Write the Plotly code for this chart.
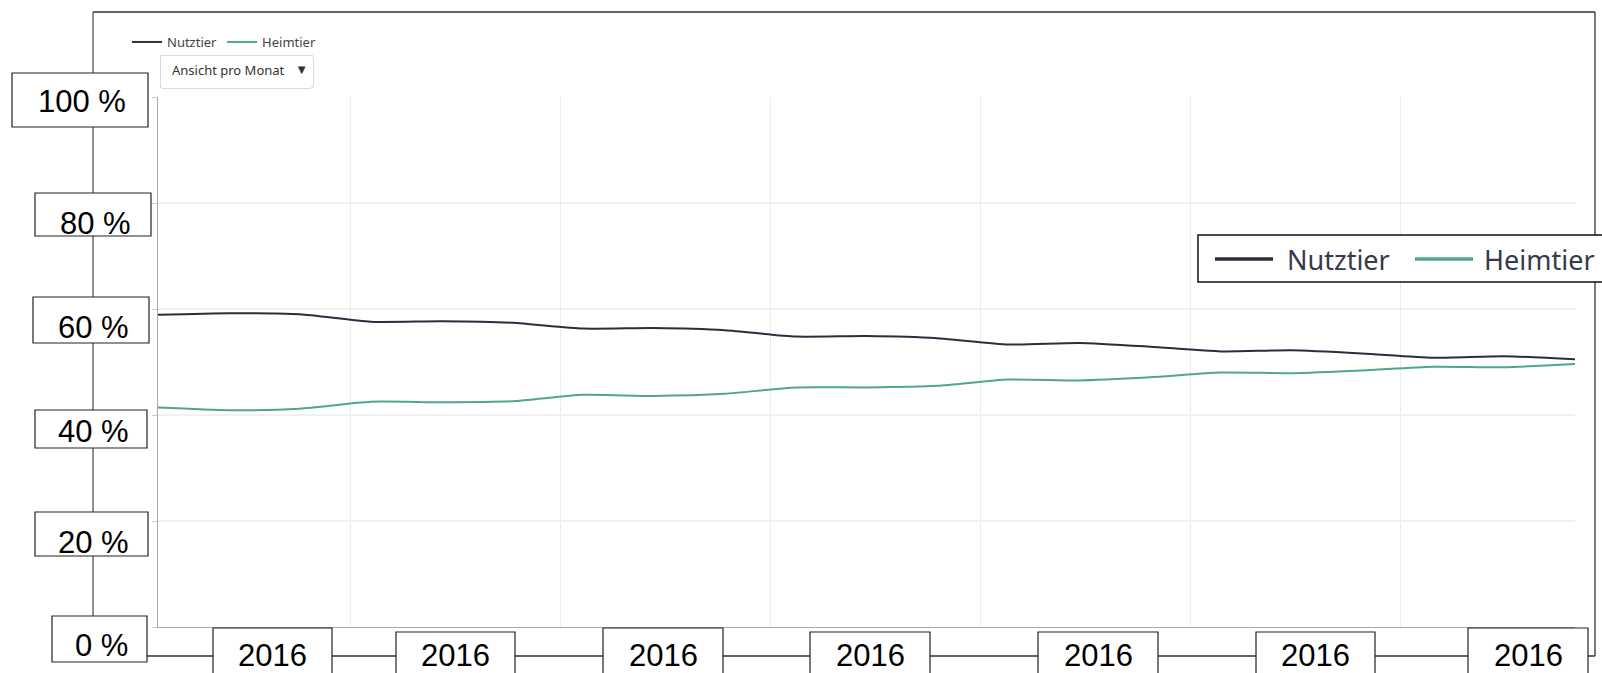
import plotly.graph_objects as go

# ---------------- data ----------------
MONTH_INDEX = list(range(21))
NUTZTIER = [58.9, 59.2, 59.0, 57.6, 57.7, 57.4, 56.3, 56.4, 56.0, 54.8, 54.9,
            54.5, 53.3, 53.6, 52.9, 52.0, 52.2, 51.6, 50.8, 51.1, 50.5]
HEIMTIER = [41.4, 40.9, 41.2, 42.5, 42.4, 42.6, 43.8, 43.6, 44.0, 45.2, 45.2,
            45.5, 46.7, 46.5, 47.1, 48.0, 47.9, 48.4, 49.1, 49.0, 49.6]
SERIES_NAMES = ["Nutztier", "Heimtier"]
Y_TICK_VALUES = [0, 20, 40, 60, 80, 100]
Y_TICK_LABELS = ["0 %", "20 %", "40 %", "60 %", "80 %", "100 %"]
X_TICK_LABELS = ["2016"] * 7
DROPDOWN_LABEL = "Ansicht pro Monat"

COL_N = "#2c2e3e"
COL_H = "#4ea68e"

# ---------------- geometry (pixels) ----------------
FW, FH = 1602, 673
L, R, T, B = 158, 1575, 97, 627
W, H = R - L, B - T


def px(xp):
    return (xp - L) / W


def py(yp):
    return (B - yp) / H


fig = go.Figure()
fig.add_trace(go.Scatter(x=MONTH_INDEX, y=NUTZTIER, name=SERIES_NAMES[0], mode="lines",
                         line=dict(color=COL_N, width=2, shape="spline", smoothing=0.6)))
fig.add_trace(go.Scatter(x=MONTH_INDEX, y=HEIMTIER, name=SERIES_NAMES[1], mode="lines",
                         line=dict(color=COL_H, width=2, shape="spline", smoothing=0.6)))

shapes = []
ann = []
frame = dict(color="#333333", width=1.3)
# outer frame lines
shapes.append(dict(type="line", xref="paper", yref="paper", x0=px(93), x1=px(1595), y0=py(12), y1=py(12), line=frame, layer="above"))
shapes.append(dict(type="line", xref="paper", yref="paper", x0=px(93), x1=px(93), y0=py(12), y1=py(640), line=dict(color="#555", width=1.3), layer="above"))
shapes.append(dict(type="line", xref="paper", yref="paper", x0=px(1595), x1=px(1595), y0=py(12), y1=py(656), line=frame, layer="above"))
shapes.append(dict(type="line", xref="paper", yref="paper", x0=px(140), x1=px(1595), y0=py(656), y1=py(656), line=frame, layer="above"))

box_font = dict(family="Liberation Sans, Arial", size=31, color="black")

# y boxes: (x0, x1, y0, y1, text_center_y)
y_boxes = [(52, 147, 616, 662, 645), (35, 148, 512, 556, 542), (35, 147, 410, 448, 431),
           (33, 149, 297, 343, 327), (35, 151, 193, 236, 224), (12, 148, 73, 127, 101)]
for lab, (x0, x1, y0, y1, tc) in zip(Y_TICK_LABELS, y_boxes):
    shapes.append(dict(type="rect", xref="paper", yref="paper", x0=px(x0), x1=px(x1), y0=py(y0), y1=py(y1),
                       line=dict(color="#222", width=1.2), fillcolor="white", layer="above"))
    ann.append(dict(text=lab, xref="paper", yref="paper", x=px((x0 + x1) / 2 + 2), y=py(tc),
                    xanchor="center", yanchor="middle", showarrow=False, font=box_font))

# x boxes
x_boxes = [(213, 332, 628), (396, 515, 632), (603, 723, 628), (810, 930, 632),
           (1038, 1158, 632), (1256, 1375, 632), (1468, 1588, 628)]
for lab, (x0, x1, y0) in zip(X_TICK_LABELS, x_boxes):
    shapes.append(dict(type="rect", xref="paper", yref="paper", x0=px(x0), x1=px(x1), y0=py(y0), y1=py(y0 + 48),
                       line=dict(color="#222", width=1.2), fillcolor="white", layer="above"))
    ann.append(dict(text=lab, xref="paper", yref="paper", x=px((x0 + x1) / 2), y=py(min(y0 + 28, 655)),
                    xanchor="center", yanchor="middle", showarrow=False, font=box_font))

# big legend overlay
shapes.append(dict(type="rect", xref="paper", yref="paper", x0=px(1198), x1=px(1620), y0=py(235), y1=py(282),
                   line=dict(color="#111", width=1.5), fillcolor="white", layer="above"))
for (lx0, lx1, tx, col, name) in [(1215, 1273, 1285, COL_N, SERIES_NAMES[0]),
                                   (1415, 1473, 1482, COL_H, SERIES_NAMES[1])]:
    shapes.append(dict(type="line", xref="paper", yref="paper", x0=px(lx0), x1=px(lx1), y0=py(259), y1=py(259),
                       line=dict(color=col, width=3.5), layer="above"))
    ann.append(dict(text=name, xref="paper", yref="paper", x=px(tx), y=py(259), xanchor="left", yanchor="middle",
                    showarrow=False, font=dict(family="Noto Sans", size=27, color="#353a4c")))

fig.update_layout(
    width=FW, height=FH, autosize=False,
    margin=dict(l=L, r=FW - R, t=T, b=FH - B, pad=0),
    paper_bgcolor="white", plot_bgcolor="white",
    font=dict(family="Noto Sans", size=13, color="#444"),
    showlegend=True,
    legend=dict(orientation="h", x=px(127), y=py(27), xanchor="left", yanchor="top",
                font=dict(size=13, color="#444"), bgcolor="rgba(0,0,0,0)", itemwidth=30),
    xaxis=dict(range=[0, 20], showgrid=True, gridcolor="#ececec", gridwidth=1,
               tick0=2.71, dtick=2.965, showticklabels=False, ticks="",
               showline=True, linecolor="#aaaaaa", linewidth=1, zeroline=False),
    yaxis=dict(range=[0, 100], tickvals=Y_TICK_VALUES, showgrid=True, gridcolor="#f1f1f1", gridwidth=2,
               showticklabels=False, ticks="outside", ticklen=5, tickcolor="#cccccc",
               showline=True, linecolor="#aaaaaa", linewidth=1, zeroline=False),
    updatemenus=[dict(type="dropdown", buttons=[dict(label=DROPDOWN_LABEL, method="skip", args=[None])],
                      x=px(159), y=py(54), xanchor="left", yanchor="top", showactive=False,
                      bgcolor="white", bordercolor="#d6dce6", borderwidth=1,
                      font=dict(size=13, color="#333"), pad=dict(t=0, b=0, l=0, r=0))],
    shapes=shapes, annotations=ann,
)

fig.write_html("out.html", config={"displayModeBar": False},
               post_script="document.body.style.margin='0';document.body.style.overflow='hidden';")
